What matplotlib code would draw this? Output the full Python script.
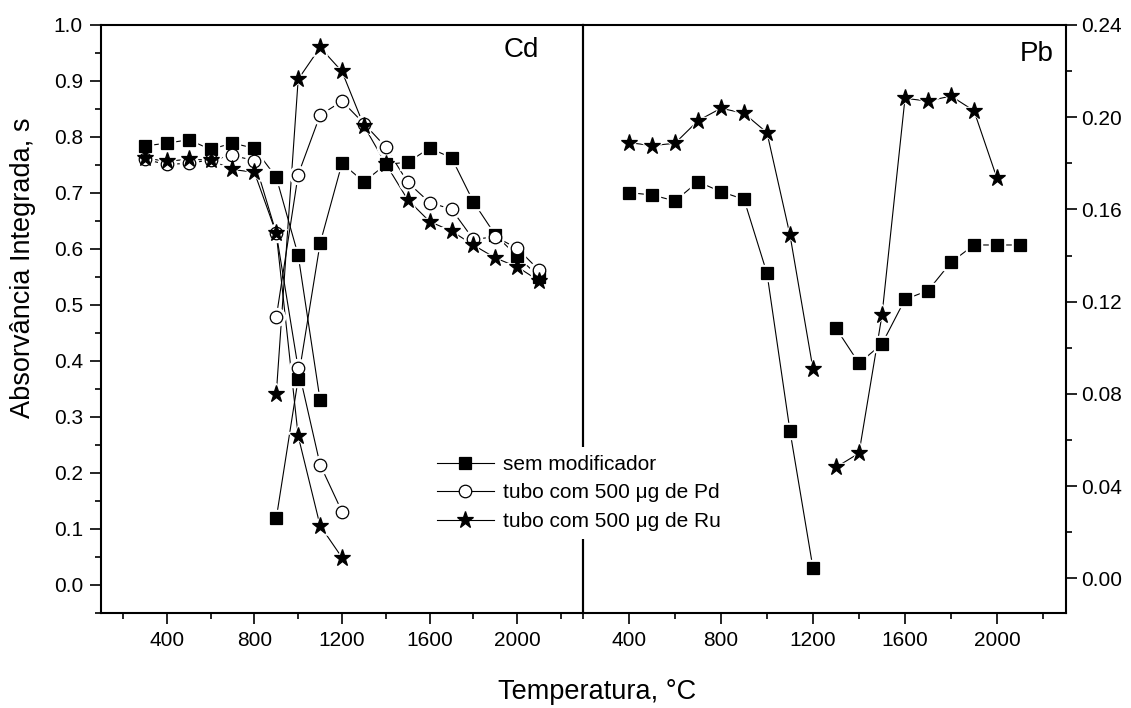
import matplotlib
matplotlib.use('Agg')
import matplotlib.pyplot as plt
from matplotlib.lines import Line2D
from matplotlib.ticker import MultipleLocator, FormatStrFormatter

plt.rcParams['font.family'] = ['Liberation Sans', 'DejaVu Sans']

# ---------------- Cd (left axis) ----------------
# sem modificador (two traced runs)
cd_sem_a_T = [300, 400, 500, 600, 700, 800, 900, 1000, 1100]
cd_sem_a = [0.784, 0.789, 0.795, 0.778, 0.789, 0.780, 0.728, 0.589, 0.330]
cd_sem_b_T = [900, 1000, 1100, 1200, 1300, 1400, 1500, 1600, 1700, 1800, 1900, 2000, 2100]
cd_sem_b = [0.119, 0.368, 0.610, 0.753, 0.720, 0.751, 0.755, 0.780, 0.763, 0.684, 0.625, 0.587, 0.550]
# tubo com 500 ug de Pd
cd_pd_a_T = [300, 400, 500, 600, 700, 800, 900, 1000, 1100, 1200]
cd_pd_a = [0.760, 0.751, 0.753, 0.759, 0.767, 0.758, 0.628, 0.387, 0.215, 0.131]
cd_pd_b_T = [900, 1000, 1100, 1200, 1300, 1400, 1500, 1600, 1700, 1800, 1900, 2000, 2100]
cd_pd_b = [0.478, 0.733, 0.839, 0.864, 0.824, 0.782, 0.719, 0.683, 0.671, 0.617, 0.622, 0.601, 0.562]
# tubo com 500 ug de Ru
cd_ru_a_T = [300, 400, 500, 600, 700, 800, 900, 1000, 1100, 1200]
cd_ru_a = [0.762, 0.757, 0.760, 0.759, 0.742, 0.737, 0.628, 0.266, 0.106, 0.049]
cd_ru_b_T = [900, 1000, 1100, 1200, 1300, 1400, 1500, 1600, 1700, 1800, 1900, 2000, 2100]
cd_ru_b = [0.341, 0.903, 0.960, 0.917, 0.820, 0.752, 0.688, 0.649, 0.632, 0.607, 0.584, 0.568, 0.543]

# ---------------- Pb (right axis) ----------------
pb_sem_a_T = [400, 500, 600, 700, 800, 900, 1000, 1100, 1200]
pb_sem_a = [0.1673, 0.1663, 0.1637, 0.1720, 0.1677, 0.1644, 0.1323, 0.0639, 0.0044]
pb_sem_b_T = [1300, 1400, 1500, 1600, 1700, 1800, 1900, 2000, 2100]
pb_sem_b = [0.1085, 0.0933, 0.1017, 0.1210, 0.1248, 0.1371, 0.1446, 0.1446, 0.1446]
pb_ru_a_T = [400, 500, 600, 700, 800, 900, 1000, 1100, 1200]
pb_ru_a = [0.1890, 0.1877, 0.1887, 0.1985, 0.2039, 0.2017, 0.1933, 0.1489, 0.0908]
pb_ru_b_T = [1300, 1400, 1500, 1600, 1700, 1800, 1900, 2000]
pb_ru_b = [0.0482, 0.0543, 0.1142, 0.2082, 0.2070, 0.2092, 0.2028, 0.1735]

x_ticks = [400, 800, 1200, 1600, 2000]
cd_yticks = [0.0, 0.1, 0.2, 0.3, 0.4, 0.5, 0.6, 0.7, 0.8, 0.9, 1.0]
pb_yticks = [0.00, 0.04, 0.08, 0.12, 0.16, 0.20, 0.24]

labels = ['sem modificador', 'tubo com 500 \u03bcg de Pd', 'tubo com 500 \u03bcg de Ru']

styles = {
    'sem': dict(marker='s', ms=8, mfc='black'),
    'pd': dict(marker='o', ms=9, mfc='white'),
    'ru': dict(marker='*', ms=12.5, mfc='black'),
}

W, H = 1131, 708
fig = plt.figure(figsize=(W / 100, H / 100), dpi=100)
ax1 = fig.add_axes([101 / W, 1 - 613 / H, 482 / W, 588 / H])
ax2 = fig.add_axes([583 / W, 1 - 613 / H, 483 / W, 588 / H])


def draw(ax, T, v, key):
    st = styles[key]
    ax.plot(T, v, '-', color='black', lw=0.8, zorder=2)
    ax.plot(T, v, linestyle='none', marker=st['marker'], ms=st['ms'] + 4,
            mfc='white', mec='white', zorder=3)
    ax.plot(T, v, linestyle='none', marker=st['marker'], ms=st['ms'],
            mfc=st['mfc'], mec='black', mew=0.9, zorder=4)


draw(ax1, cd_sem_a_T, cd_sem_a, 'sem')
draw(ax1, cd_sem_b_T, cd_sem_b, 'sem')
draw(ax1, cd_pd_a_T, cd_pd_a, 'pd')
draw(ax1, cd_pd_b_T, cd_pd_b, 'pd')
draw(ax1, cd_ru_a_T, cd_ru_a, 'ru')
draw(ax1, cd_ru_b_T, cd_ru_b, 'ru')

draw(ax2, pb_sem_a_T, pb_sem_a, 'sem')
draw(ax2, pb_sem_b_T, pb_sem_b, 'sem')
draw(ax2, pb_ru_a_T, pb_ru_a, 'ru')
draw(ax2, pb_ru_b_T, pb_ru_b, 'ru')

ax1.set_xlim(100, 2300)
ax1.set_ylim(-0.05, 1.0)
ax2.set_xlim(200, 2300)
ax2.set_ylim(-0.015, 0.24)

for ax in (ax1, ax2):
    ax.set_xticks(x_ticks)
    ax.xaxis.set_minor_locator(MultipleLocator(200))
    for sp in ax.spines.values():
        sp.set_linewidth(1.5)
    ax.tick_params(which='major', direction='out', length=8, width=1.2,
                   labelsize=15, pad=5)
    ax.tick_params(which='minor', direction='out', length=4, width=1.2)
    ax.tick_params(axis='x', top=False)

ax1.set_yticks(cd_yticks)
ax1.yaxis.set_minor_locator(MultipleLocator(0.05))
ax1.yaxis.set_major_formatter(FormatStrFormatter('%.1f'))
ax1.tick_params(axis='y', right=False, which='both')

ax2.yaxis.tick_right()
ax2.set_yticks(pb_yticks)
ax2.yaxis.set_minor_locator(MultipleLocator(0.02))
ax2.yaxis.set_major_formatter(FormatStrFormatter('%.2f'))
ax2.tick_params(axis='y', left=False, which='both', pad=3)
ax2.patch.set_visible(False)

ax1.text(0.873, 0.958, 'Cd', transform=ax1.transAxes, fontsize=20,
         ha='center', va='center')
ax2.text(0.94, 0.950, 'Pb', transform=ax2.transAxes, fontsize=20,
         ha='center', va='center')

fig.text(23 / W, 1 - 268 / H, 'Absorv\u00e2ncia Integrada, s', rotation=90,
         fontsize=19.5, ha='center', va='center')
fig.text(597 / W, 1 - 692 / H, 'Temperatura, \u00b0C', fontsize=19.5,
         ha='center', va='center')

handles = []
for key in ('sem', 'pd', 'ru'):
    st = styles[key]
    handles.append(Line2D([], [], color='black', lw=0.8, marker=st['marker'],
                          ms=st['ms'], mfc=st['mfc'], mec='black', mew=0.9))
leg = fig.legend(handles, labels, loc='center left',
                 bbox_to_anchor=(429 / W, 1 - 493 / H), fontsize=15,
                 frameon=True, facecolor='white', edgecolor='none',
                 framealpha=1, fancybox=False, handlelength=2.7,
                 handletextpad=0.45, labelspacing=0.45, borderpad=0.4,
                 borderaxespad=0)

fig.savefig('out.png', dpi=100)
